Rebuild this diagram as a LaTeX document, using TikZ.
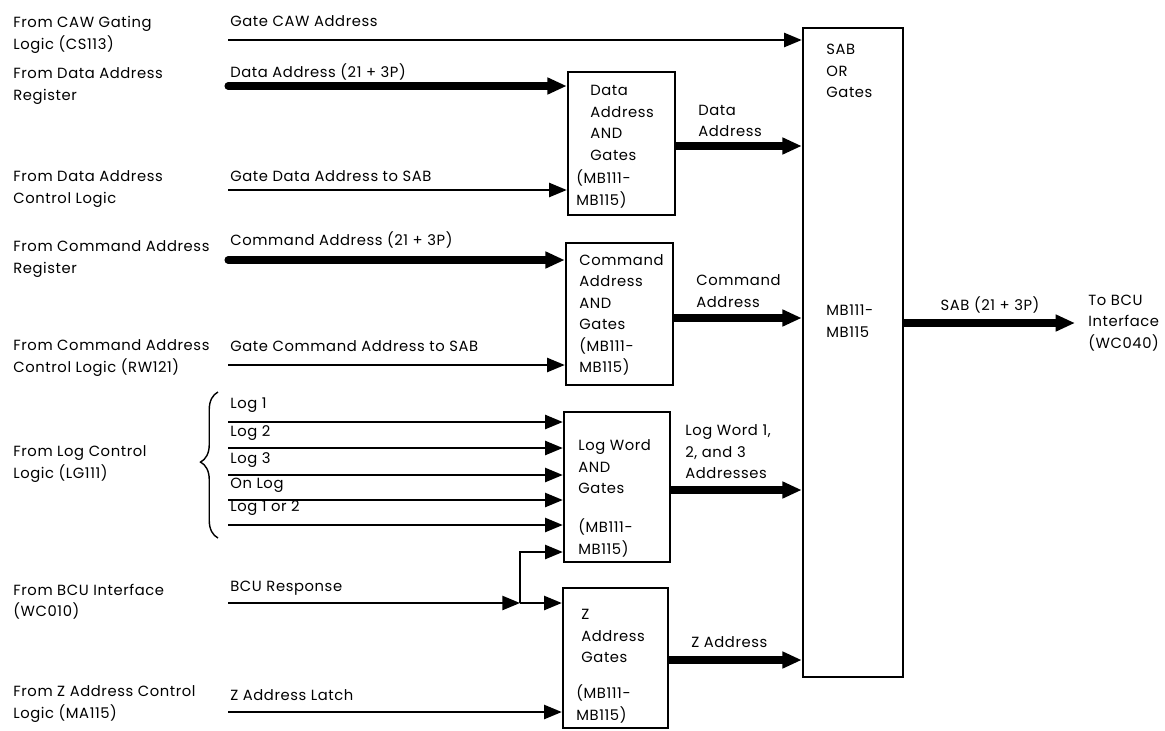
\documentclass[tikz,border=0pt]{standalone}
\usepackage{fontspec}
\setmainfont[LetterSpace=4]{Poppins}
\usetikzlibrary{arrows.meta, decorations.pathreplacing, fit}

\tikzset{
  sig/.style={line width=1.1pt, -{Triangle[length=10pt, width=8pt]}},
  bus/.style={line width=4pt, -{Triangle[length=11pt, width=9pt]}},
  gatebox/.style={draw, line width=1.4pt, inner sep=0pt, fit={#1}},
  lbl/.style={anchor=west, align=left, inner sep=0pt},
}

\begin{document}
\begin{tikzpicture}[x=0.02cm, y=-0.02cm, font=\fontsize{8.4}{12.2}\selectfont]
  \useasboundingbox (0,0) rectangle (1165,730);

  % Gate boxes
  \node[gatebox={(803,28) (903,677)}]  (sab)     {};
  \node[gatebox={(568,72) (675,215)}]  (dagate)  {};
  \node[gatebox={(566,243) (673,385)}] (cagate)  {};
  \node[gatebox={(564,412) (670,562)}] (loggate) {};
  \node[gatebox={(563,588) (668,728)}] (zgate)   {};

  % Box texts
  \node[lbl] (sabtxt) at (826,71)  {SAB\\OR\\Gates};
  \node[lbl] (sabmb)  at (826,321) {MB111-\\MB115};
  \node[lbl] (datxt)  at (590,123) {Data\\Address\\AND\\Gates};
  \node[lbl] (damb)   at (576,189) {(MB111-\\MB115)};
  \node[lbl] (catxt)  at (579,315) {Command\\Address\\AND\\Gates\\(MB111-\\MB115)};
  \node[lbl] (logtxt) at (578,467) {Log Word\\AND\\Gates};
  \node[lbl] (logmb)  at (578,538) {(MB111-\\MB115)};
  \node[lbl] (ztxt)   at (581,636) {Z\\Address\\Gates};
  \node[lbl] (zmb)    at (576,704) {(MB111-\\MB115)};

  % Sources
  \node[lbl] (srccaw) at (13,35)  {From CAW Gating\\Logic (CS113)};
  \node[lbl] (srcdar) at (13,86)  {From Data Address\\Register};
  \node[lbl] (srcdac) at (13,189) {From Data Address\\Control Logic};
  \node[lbl] (srccar) at (13,259) {From Command Address\\Register};
  \node[lbl] (srccac) at (13,358) {From Command Address\\Control Logic (RW121)};
  \node[lbl] (srclog) at (13,464) {From Log Control\\Logic (LG111)};
  \node[lbl] (srcbcu) at (13,602) {From BCU Interface\\(WC010)};
  \node[lbl] (srcz)   at (13,704) {From Z Address Control\\Logic (MA115)};

  % Inputs to SAB and Data Address gates
  \coordinate (cawin) at (228,40);
  \node[lbl] (cawlbl) at (230,21) {Gate CAW Address};
  \draw[sig] (cawin) -- (cawin -| sab.west);

  \coordinate (dain) at (228,86);
  \node[lbl] (dalbl) at (230,72) {Data Address (21 + 3P)};
  \draw[bus, line cap=round] (dain) -- (dain -| dagate.west);

  \coordinate (gdain) at (228,190);
  \node[lbl] (gdalbl) at (230,176) {Gate Data Address to SAB};
  \draw[sig] (gdain) -- (gdain -| dagate.west);

  % Command Address gates
  \coordinate (cain) at (228,260);
  \node[lbl] (calbl) at (230,240) {Command Address (21 + 3P)};
  \draw[bus, line cap=round] (cain) -- (cain -| cagate.west);

  \coordinate (gcain) at (228,365);
  \node[lbl] (gcalbl) at (230,346) {Gate Command Address to SAB};
  \draw[sig] (gcain) -- (gcain -| cagate.west);

  % Log lines
  \draw[line width=0.8pt, decorate, decoration={brace, amplitude=0.35cm, aspect=0.52}]
    (218,538) -- (218,392);
  \coordinate (log1in) at (228,422);
  \coordinate (log2in) at (228,448);
  \coordinate (log3in) at (228,475);
  \coordinate (onlogin) at (228,500);
  \coordinate (log12in) at (228,525);
  \node[lbl] (log1lbl)  at (230,405) {Log 1};
  \node[lbl] (log2lbl)  at (230,433) {Log 2};
  \node[lbl] (log3lbl)  at (230,460) {Log 3};
  \node[lbl] (onloglbl) at (230,485) {On Log};
  \node[lbl] (log12lbl) at (230,508) {Log 1 or 2};
  \draw[sig] (log1in) -- (log1in -| loggate.west);
  \draw[sig] (log2in) -- (log2in -| loggate.west);
  \draw[sig] (log3in) -- (log3in -| loggate.west);
  \draw[sig] (onlogin) -- (onlogin -| loggate.west);
  \draw[sig] (log12in) -- (log12in -| loggate.west);

  % BCU response, split to Log Word and Z gates
  \coordinate (bcuin) at (228,603);
  \coordinate (split) at (520,603);
  \coordinate (splitup) at (520,552);
  \node[lbl] (bculbl) at (230,588) {BCU Response};
  \draw[sig] (bcuin) -- (split);
  \draw[sig] (split) -- (splitup) -- (splitup -| loggate.west);
  \draw[sig] (split) -- (split -| zgate.west);

  \coordinate (zin) at (228,712);
  \node[lbl] (zlbl) at (230,695) {Z Address Latch};
  \draw[sig] (zin) -- (zin -| zgate.west);

  % Outputs into SAB OR gates
  \coordinate (daout) at (675,146);
  \node[lbl] (daoutlbl) at (698,121) {Data\\Address};
  \draw[bus] (dagate.east |- daout) -- (daout -| sab.west);

  \coordinate (caout) at (673,318);
  \node[lbl] (caoutlbl) at (696,291) {Command\\Address};
  \draw[bus] (cagate.east |- caout) -- (caout -| sab.west);

  \coordinate (logout) at (670,490);
  \node[lbl] (logoutlbl) at (685,452) {Log Word 1,\\2, and 3\\Addresses};
  \draw[bus] (loggate.east |- logout) -- (logout -| sab.west);

  \coordinate (zout) at (668,660);
  \node[lbl] (zoutlbl) at (691,642) {Z Address};
  \draw[bus] (zgate.east |- zout) -- (zout -| sab.west);

  % SAB out
  \coordinate (sabout) at (1075,323);
  \node (saboutlbl) at (990,305) {SAB (21 + 3P)};
  \draw[bus] (sab.east |- sabout) -- (sabout);
  \node[lbl] (bcudst) at (1088,323) {To BCU\\Interface\\(WC040)};
\end{tikzpicture}
\end{document}
